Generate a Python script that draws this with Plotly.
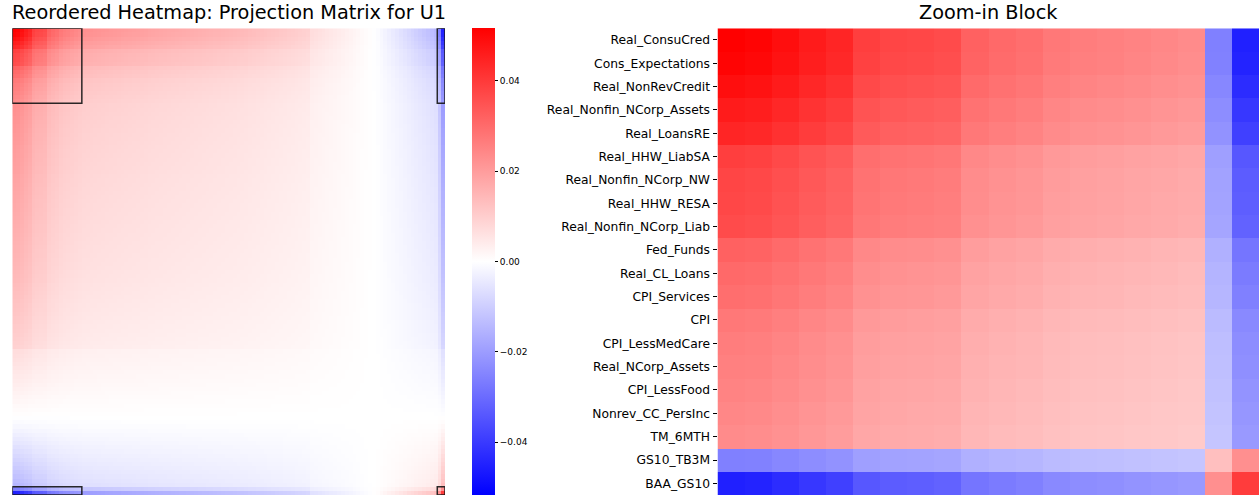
import numpy as np
import plotly.graph_objects as go

# Loadings of the first singular vector U1, already reordered (descending)
u1_loadings = [
    0.2274, 0.2240, 0.2149, 0.2035, 0.1944, 0.1717, 0.1660, 0.1637, 0.1603,
    0.1410, 0.1342, 0.1296, 0.1205, 0.1160, 0.1137, 0.1103, 0.1069, 0.1035,
    0.1001, 0.0991, 0.0978, 0.0966, 0.0957, 0.0946, 0.0932, 0.0921, 0.0912,
    0.0903, 0.0891, 0.0882, 0.0873, 0.0864, 0.0857, 0.0848, 0.0839,
    0.0823, 0.0814, 0.0807, 0.0798, 0.0789, 0.0780, 0.0773, 0.0764, 0.0757,
    0.0750, 0.0741, 0.0732, 0.0723, 0.0716, 0.0707, 0.0700, 0.0691, 0.0682,
    0.0675, 0.0666, 0.0657, 0.0650, 0.0641, 0.0632, 0.0623, 0.0614,
    0.0596, 0.0584, 0.0573, 0.0562, 0.0548, 0.0537, 0.0525, 0.0514, 0.0500,
    0.0489, 0.0475, 0.0464, 0.0450, 0.0437, 0.0423, 0.0409,
    0.0307, 0.0291, 0.0273, 0.0255, 0.0236, 0.0218, 0.0200, 0.0180, 0.0159,
    0.0139, 0.0118, 0.0098, 0.0077, 0.0057, 0.0036, 0.0016,
    -0.0009, -0.0034, -0.0068, -0.0109, -0.0148, -0.0186, -0.0227, -0.0268,
    -0.0309, -0.0352, -0.0391, -0.0432, -0.0471, -0.0512, -0.0553, -0.0596,
    -0.0648,
    -0.1137, -0.1990,
]

# Variables shown in the zoom-in block: the 18 leading and 2 trailing ones
block_labels = [
    "Real_ConsuCred", "Cons_Expectations", "Real_NonRevCredit",
    "Real_Nonfin_NCorp_Assets", "Real_LoansRE", "Real_HHW_LiabSA",
    "Real_Nonfin_NCorp_NW", "Real_HHW_RESA", "Real_Nonfin_NCorp_Liab",
    "Fed_Funds", "Real_CL_Loans", "CPI_Services", "CPI", "CPI_LessMedCare",
    "Real_NCorp_Assets", "CPI_LessFood", "Nonrev_CC_PersInc", "TM_6MTH",
    "GS10_TB3M", "BAA_GS10",
]
n_head = 18
n_tail = 2

colorbar_ticks = [-0.04, -0.02, 0.0, 0.02, 0.04]
colorbar_ticktext = ["\u22120.04", "\u22120.02", "0.00", "0.02", "0.04"]

u = np.array(u1_loadings)
n = len(u)
P = np.outer(u, u)
vmax = float(np.abs(P).max())

block_idx = list(range(n_head)) + list(range(n - n_tail, n))
Z = P[np.ix_(block_idx, block_idx)]

bwr = [[0.0, "rgb(0,0,255)"], [0.5, "rgb(255,255,255)"], [1.0, "rgb(255,0,0)"]]

W, H = 1259, 498
FONT = "DejaVu Sans"


def px_x(v):
    return v / W


def px_y(v):
    return 1 - v / H


top_px, bot_px = 28.3, 495.0

fig = go.Figure()
fig.add_trace(go.Heatmap(
    z=P, x=np.arange(n), y=np.arange(n),
    colorscale=bwr, zmin=-vmax, zmax=vmax,
    xaxis="x", yaxis="y", hoverinfo="skip",
    colorbar=dict(
        x=px_x(472.3), xanchor="left", y=px_y(bot_px), yanchor="bottom",
        len=(bot_px - top_px) / H, lenmode="fraction",
        thickness=23, thicknessmode="pixels", xpad=0, ypad=0,
        outlinewidth=0, tickvals=colorbar_ticks, ticktext=colorbar_ticktext,
        ticks="outside", ticklen=3.5, tickwidth=0.8, tickcolor="#000",
        tickfont=dict(family=FONT, size=9, color="#000"),
    ),
))
fig.add_trace(go.Heatmap(
    z=Z, y=block_labels, x=list(range(len(block_labels))),
    colorscale=bwr, zmin=-vmax, zmax=vmax, showscale=False,
    xaxis="x2", yaxis="y2", hoverinfo="skip",
))

# Outline the four pieces of the matrix that make up the zoom-in block
spans = [(-0.5, n_head - 0.5), (n - n_tail - 0.5, n - 0.5)]
for (r0, r1) in spans:
    for (c0, c1) in spans:
        fig.add_shape(type="rect", xref="x", yref="y", x0=c0, x1=c1, y0=r0, y1=r1,
                      line=dict(color="rgba(20,20,20,0.9)", width=1.5))

ydom = [px_y(bot_px), px_y(top_px)]
fig.update_layout(
    width=W, height=H, margin=dict(l=0, r=0, t=0, b=0),
    paper_bgcolor="white", plot_bgcolor="white",
    font=dict(family=FONT, color="#000"),
    xaxis=dict(domain=[px_x(12.3), px_x(445.0)], range=[-0.5, n - 0.5],
               showticklabels=False, ticks="", showgrid=False, zeroline=False),
    yaxis=dict(domain=ydom, range=[n - 0.5, -0.5],
               showticklabels=False, ticks="", showgrid=False, zeroline=False),
    xaxis2=dict(domain=[px_x(717.5), 1.0], range=[-0.5, len(block_labels) - 0.5],
                showticklabels=False, ticks="", showgrid=False, zeroline=False),
    yaxis2=dict(domain=ydom, autorange="reversed", type="category",
                ticks="outside", ticklen=4, tickwidth=0.8, tickcolor="#000",
                tickfont=dict(family=FONT, size=12.3, color="#000"),
                showgrid=False, zeroline=False, anchor="x2"),
    annotations=[
        dict(text="Reordered Heatmap: Projection Matrix for U1", xref="paper", yref="paper",
             x=px_x(228.6), y=px_y(top_px) + 2 / H, xanchor="center", yanchor="bottom",
             showarrow=False, font=dict(family=FONT, size=19.3, color="#000")),
        dict(text="Zoom-in Block", xref="paper", yref="paper",
             x=px_x(988.5), y=px_y(top_px) + 2 / H, xanchor="center", yanchor="bottom",
             showarrow=False, font=dict(family=FONT, size=19.3, color="#000")),
    ],
)

fig.write_html("out.html")
